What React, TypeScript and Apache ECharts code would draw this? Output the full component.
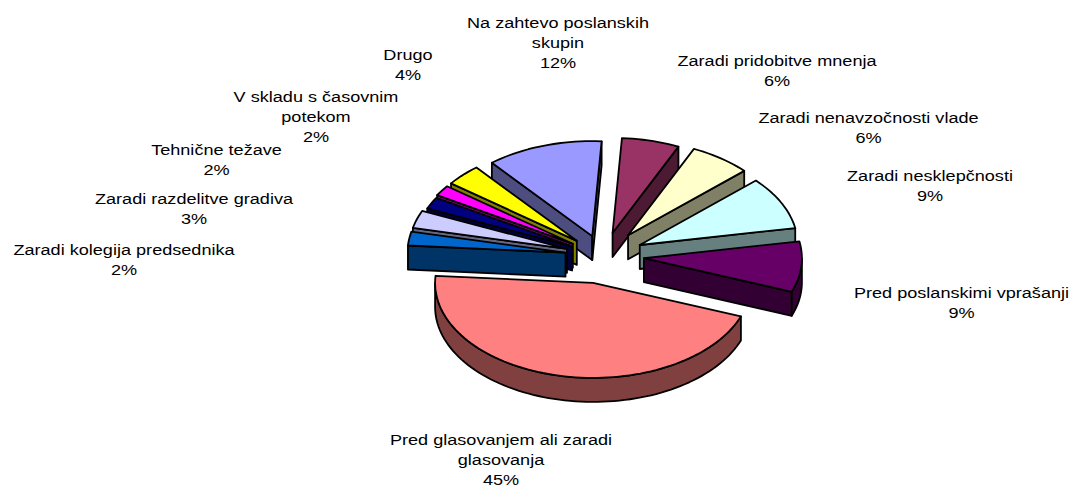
import React, { useEffect, useRef } from "react";
import * as echarts from "echarts";

const names = [
  "Zaradi pridobitve mnenja",
  "Zaradi nenavzočnosti vlade",
  "Zaradi nesklepčnosti",
  "Pred poslanskimi vprašanji",
  "Pred glasovanjem ali zaradi\nglasovanja",
  "Zaradi kolegija predsednika",
  "Zaradi razdelitve gradiva",
  "Tehnične težave",
  "V skladu s časovnim\npotekom",
  "Drugo",
  "Na zahtevo poslanskih\nskupin",
];
const values = [5.9, 6.3, 9.0, 8.6, 45.45, 2.35, 3.0, 2.0, 1.8, 3.7, 11.9];
const topColors = ["#993366", "#FFFFCC", "#CCFFFF", "#660066", "#FF8080", "#0066CC", "#CCCCFF", "#000080", "#FF00FF", "#FFFF00", "#9999FF"];
const sideColors = ["#4D1A33", "#808066", "#668080", "#330033", "#804040", "#003366", "#666680", "#000040", "#800080", "#808000", "#4D4D80"];
const explode = [0.25, 0.27, 0.26, 0.26, 0.29, 0.24, 0.24, 0.22, 0.23, 0.23, 0.22];
const labelCenters = [
  [777, 71], [868.5, 128], [930, 186], [961.5, 303], [501, 460.5], [124, 260],
  [194, 209], [216.5, 160], [316, 117], [408, 65], [558, 43],
];

const CX = 603, CY = 256, RX = 158, RY = 95, DEPTH = 24, START = -86.6;
const FONT_SIZE = 15, STRETCH = 1.207;
const total = values.reduce((a, b) => a + b, 0);
const rad = (d: number) => (d * Math.PI) / 180;

function App() {
  const ref = useRef<HTMLDivElement>(null);
  useEffect(() => {
    const chart = echarts.init(ref.current!, null, { renderer: "svg" });
    const starts: number[] = [];
    values.reduce((acc, v, i) => {
      starts[i] = acc;
      return acc + (v / total) * 360;
    }, START);
    const stroke = { stroke: "#000", lineWidth: 1.8, lineJoin: "round" as const };

    chart.setOption({
      animation: false,
      backgroundColor: "#fff",
      series: [
        {
          type: "custom",
          coordinateSystem: "none",
          silent: true,
          data: values.map((v, i) => ({ name: names[i], value: [v] })),
          renderItem: (params: any, api: any) => {
            const i = params.dataIndex;
            const v = api.value(0);
            const a0 = starts[i];
            const a1 = a0 + (v / total) * 360;
            const mid = (a0 + a1) / 2;
            const ox = CX + explode[i] * RX * Math.cos(rad(mid));
            const oy = CY + explode[i] * RY * Math.sin(rad(mid));
            const pt = (a: number, dy = 0) => [ox + RX * Math.cos(rad(a)), oy + RY * Math.sin(rad(a)) + dy];
            const arc = (from: number, to: number, dy = 0) => {
              const n = Math.max(2, Math.ceil(Math.abs(to - from) / 2));
              const out: number[][] = [];
              for (let k = 0; k <= n; k++) out.push(pt(from + ((to - from) * k) / n, dy));
              return out;
            };
            const rank = Math.round((Math.sin(rad(mid)) + 1) * 100) * 10;
            const children: any[] = [];
            const wall = (points: number[][], sub: number) =>
              children.push({ type: "polygon", z2: rank + sub, shape: { points }, style: { fill: sideColors[i], ...stroke } });
            if (Math.cos(rad(a0)) < 0) wall([[ox, oy], pt(a0), pt(a0, DEPTH), [ox, oy + DEPTH]], 1);
            if (Math.cos(rad(a1)) > 0) wall([[ox, oy], pt(a1), pt(a1, DEPTH), [ox, oy + DEPTH]], 1);
            const visFrom = Math.max(a0, 0);
            const visTo = Math.min(a1, 180);
            if (visTo > visFrom) wall([...arc(visFrom, visTo), ...arc(visTo, visFrom, DEPTH)], 2);
            children.push({
              type: "polygon",
              z2: rank + 3,
              shape: { points: [[ox, oy], ...arc(a0, a1)] },
              style: { fill: topColors[i], ...stroke },
            });
            const [lx, ly] = labelCenters[i];
            children.push({
              type: "text",
              z2: 9000,
              x: lx,
              y: ly,
              scaleX: STRETCH,
              style: {
                text: `${names[i]}\n${Math.round(v)}%`,
                x: 0,
                y: 0,
                textAlign: "center",
                textVerticalAlign: "middle",
                lineHeight: 20,
                fontSize: FONT_SIZE,
                fontFamily: "Liberation Sans",
                fill: "#000",
              },
            });
            return { type: "group", children };
          },
        },
      ],
    });
    return () => chart.dispose();
  }, []);
  return <div ref={ref} style={{ position: "absolute", left: 0, top: 0, width: 1072, height: 488 }} />;
}

export default App;
